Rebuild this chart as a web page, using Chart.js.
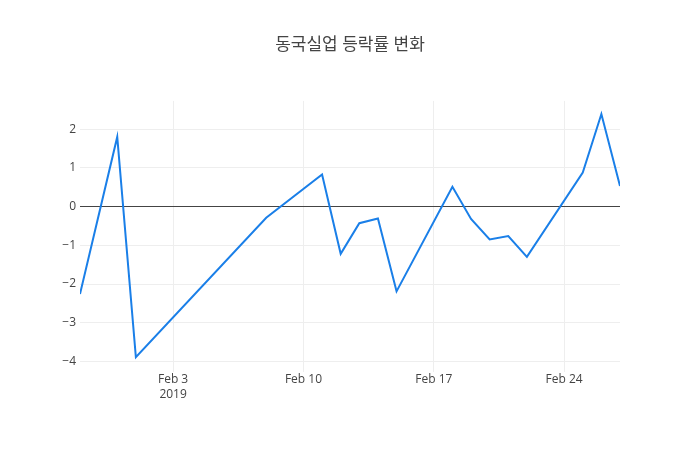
<html>
<head>
<meta charset="utf-8">
<script src="https://cdn.jsdelivr.net/npm/chart.js@4.4.0/dist/chart.umd.min.js"></script>
<style>
	html, body { margin: 0; padding: 0; background: #fff; }
	#wrap { width: 700px; height: 450px; }
</style>
</head>
<body>
<div id="wrap"><canvas id="canvas" width="700" height="450"></canvas></div>
<script>
	const dates = ['2019-01-29', '2019-01-31', '2019-02-01', '2019-02-08', '2019-02-11', '2019-02-12', '2019-02-13', '2019-02-14', '2019-02-15',
		'2019-02-18', '2019-02-19', '2019-02-20', '2019-02-21', '2019-02-22', '2019-02-25', '2019-02-26', '2019-02-27'];
	const changes = [-2.26, 1.80, -3.89, -0.29, 0.83, -1.22, -0.43, -0.31, -2.19,
		0.51, -0.32, -0.85, -0.76, -1.30, 0.88, 2.39, 0.53];
	const xTickDates = ['2019-02-03', '2019-02-10', '2019-02-17', '2019-02-24'];
	const xTickLabels = [['Feb 3', '2019'], 'Feb 10', 'Feb 17', 'Feb 24'];
	const yTicks = [-4, -3, -2, -1, 0, 1, 2];

	// day number since epoch, so the x axis can be a plain linear scale
	const dayNum = (s) => Date.UTC(+s.slice(0, 4), +s.slice(5, 7) - 1, +s.slice(8, 10)) / 86400000;
	const xTickDays = xTickDates.map(dayNum);

	const font = { family: '"Open Sans", sans-serif', size: 12 };

	new Chart(document.getElementById('canvas'), {
		type: 'line',
		data: {
			datasets: [{
				data: dates.map((d, i) => ({ x: dayNum(d), y: changes[i] })),
				borderColor: '#1a7fe8',
				borderWidth: 2,
				pointRadius: 0,
				tension: 0,
				fill: false,
			}],
		},
		options: {
			responsive: false,
			animation: false,
			layout: { padding: 0 },
			plugins: {
				legend: { display: false },
				tooltip: { enabled: false },
				title: {
					display: true,
					text: '동국실업 등락률 변화',
					color: '#444',
					font: { family: '"Open Sans", "Noto Sans CJK KR", sans-serif', size: 17, weight: 'normal', lineHeight: 1.2 },
					padding: { top: 35, bottom: 45.5 },
				},
			},
			scales: {
				x: {
					type: 'linear',
					min: dayNum(dates[0]),
					max: dayNum(dates[dates.length - 1]),
					afterBuildTicks: (scale) => { scale.ticks = xTickDays.map((v) => ({ value: v })); },
					afterFit: (scale) => { scale.height = 78.5; },
					ticks: {
						color: '#444',
						font: font,
						padding: 1,
						maxRotation: 0,
						autoSkip: false,
						callback: (value) => xTickLabels[xTickDays.indexOf(value)],
					},
					grid: { color: '#eee', drawTicks: false },
					border: { display: false },
				},
				y: {
					min: -4.26,
					max: 2.73,
					afterBuildTicks: (scale) => { scale.ticks = yTicks.map((v) => ({ value: v })); },
					afterFit: (scale) => { scale.width = 80; },
					ticks: {
						color: '#444',
						font: font,
						padding: 4,
						callback: (value) => String(value).replace('-', '\u2212'),
					},
					grid: {
						color: (ctx) => (ctx.tick && ctx.tick.value === 0 ? '#444' : '#eee'),
						drawTicks: false,
					},
					border: { display: false },
				},
				// empty right axis only to reserve the right margin, keeps the title centred
				yRight: {
					position: 'right',
					afterFit: (scale) => { scale.width = 80; },
					ticks: { display: false },
					grid: { display: false, drawTicks: false },
					border: { display: false },
				},
			},
		},
	});
</script>
</body>
</html>
